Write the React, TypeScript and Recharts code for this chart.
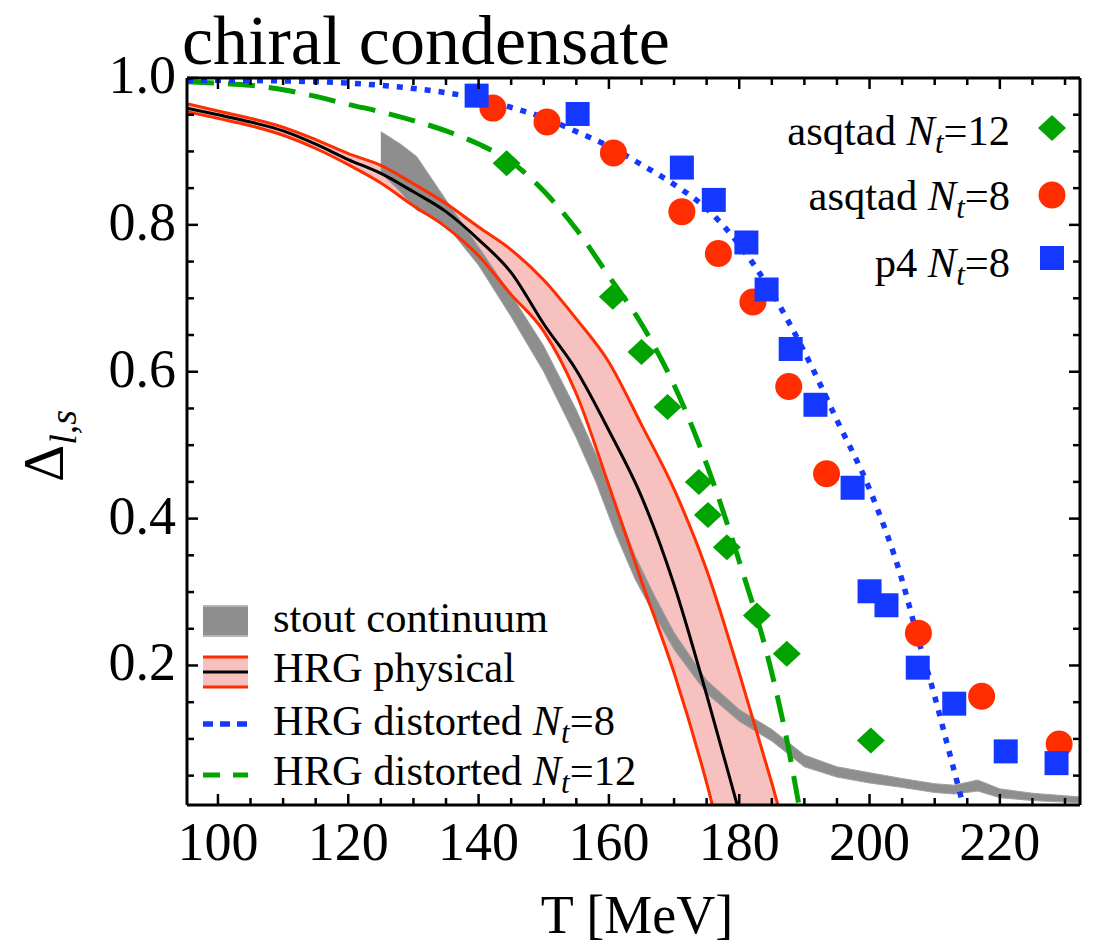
import React from "react";
import { ComposedChart, XAxis, YAxis, Line, Area, Scatter } from "recharts";

const FONT = '"Liberation Serif", "Times New Roman", serif';
const RED = "#ff2d00";
const PINK = "#f6c1be";
const GRAY = "#8e8e8e";
const BLUE = "#1438ff";
const GREEN = "#00a300";

// axis
const xTicks = [100, 105, 110, 115, 120, 125, 130, 135, 140, 145, 150, 155, 160, 165, 170, 175, 180, 185, 190, 195, 200, 205, 210, 215, 220, 225, 230];
const xLabels = [100, 120, 140, 160, 180, 200, 220];
const yTicks = [0.05, 0.1, 0.15, 0.2, 0.25, 0.3, 0.35, 0.4, 0.45, 0.5, 0.55, 0.6, 0.65, 0.7, 0.75, 0.8, 0.85, 0.9, 0.95, 1.0];
const yLabels = [0.2, 0.4, 0.6, 0.8, 1.0];

// lattice points
const p4T = [139.7, 155.2, 171.2, 176.1, 181.1, 184.2, 187.9, 191.7, 197.4, 200.0, 202.6, 207.4, 213.0, 220.9, 228.7];
const p4D = [0.976, 0.951, 0.878, 0.834, 0.776, 0.712, 0.631, 0.555, 0.442, 0.301, 0.282, 0.197, 0.148, 0.083, 0.067];
const asq8T = [142.2, 150.5, 160.7, 171.2, 176.8, 182.1, 187.6, 193.4, 207.5, 217.2, 229.1];
const asq8D = [0.959, 0.94, 0.898, 0.818, 0.761, 0.695, 0.58, 0.461, 0.244, 0.158, 0.093];
const asq12T = [144.3, 160.6, 165.0, 169.0, 173.8, 175.2, 178.1, 182.7, 187.3, 200.2];
const asq12D = [0.884, 0.702, 0.627, 0.552, 0.45, 0.405, 0.361, 0.268, 0.216, 0.098];

// HRG distorted curves
const nt8T = [95.25, 110, 125, 135, 140, 145, 150, 155, 160, 165, 170, 175, 180, 185, 190, 195, 200, 205, 207.5, 210, 212, 214, 216];
const nt8D = [0.997, 0.996, 0.99, 0.98, 0.972, 0.96, 0.946, 0.927, 0.907, 0.882, 0.855, 0.822, 0.773, 0.708, 0.627, 0.534, 0.44, 0.316, 0.235, 0.158, 0.09, 0.022, -0.05];
const nt12T = [95.25, 100, 105, 110, 115, 120, 125, 130, 135, 140, 145, 150, 155, 160, 165, 170, 175, 180, 185, 187.5, 189, 190];
const nt12D = [0.995, 0.993, 0.99, 0.984, 0.975, 0.964, 0.954, 0.942, 0.928, 0.91, 0.886, 0.846, 0.794, 0.73, 0.665, 0.582, 0.474, 0.342, 0.19, 0.09, 0.018, -0.03];

// HRG physical band
const hrgT = [95.25, 100, 105, 110, 115, 120, 125, 130, 135, 140, 145, 150, 155, 160, 165, 170, 175, 180, 185, 190];
const hrgLo = [0.954, 0.945, 0.935, 0.922, 0.904, 0.882, 0.857, 0.826, 0.797, 0.758, 0.705, 0.655, 0.57, 0.445, 0.315, 0.19, 0.04, -0.14, -0.3, -0.45];
const hrgMid = [0.959, 0.95, 0.94, 0.928, 0.91, 0.889, 0.87, 0.845, 0.818, 0.78, 0.735, 0.665, 0.602, 0.52, 0.43, 0.31, 0.16, 0.0, -0.16, -0.32];
const hrgHi = [0.965, 0.955, 0.945, 0.933, 0.916, 0.897, 0.881, 0.856, 0.829, 0.797, 0.766, 0.725, 0.672, 0.613, 0.528, 0.44, 0.33, 0.19, 0.04, -0.12];

// stout continuum band
const stoutT = [125, 128, 130.5, 135, 140, 145, 150, 155, 158, 161, 164, 167, 170, 175, 180, 185, 190, 195, 200, 205, 210, 213, 216.6, 220, 225, 232.3];
const stoutLo = [0.871, 0.845, 0.82, 0.8, 0.745, 0.675, 0.6, 0.51, 0.45, 0.38, 0.318, 0.268, 0.222, 0.162, 0.124, 0.097, 0.062, 0.048, 0.04, 0.034, 0.027, 0.025, 0.029, 0.02, 0.016, 0.013];
const stoutHi = [0.927, 0.91, 0.893, 0.834, 0.77, 0.705, 0.635, 0.548, 0.488, 0.42, 0.35, 0.295, 0.245, 0.18, 0.14, 0.113, 0.078, 0.062, 0.054, 0.046, 0.039, 0.037, 0.044, 0.032, 0.026, 0.021];

const pts = (xs: number[], ys: number[]) => xs.map((x, i) => ({ x, y: ys[i] }));
const p4Rows = pts(p4T, p4D);
const asq8Rows = pts(asq8T, asq8D);
const asq12Rows = pts(asq12T, asq12D);
const nt8Rows = pts(nt8T, nt8D);
const nt12Rows = pts(nt12T, nt12D);
const hrgRows = hrgT.map((x, i) => ({ x, lo: hrgLo[i], mid: hrgMid[i], hi: hrgHi[i], band: [hrgLo[i], hrgHi[i]] }));
const stoutRows = stoutT.map((x, i) => ({ x, band: [stoutLo[i], stoutHi[i]] }));

const isMajor = (list: number[], v: number) => list.some((m) => Math.abs(m - v) < 1e-6);

function BottomTick(props: any) {
  const { x, y, payload } = props;
  const major = isMajor(xLabels, payload.value);
  return (
    <g>
      <line x1={x} x2={x} y1={y} y2={y - (major ? 11 : 7)} stroke="#000" strokeWidth={2.5} />
      {major && (
        <text x={x} y={y + 55} textAnchor="middle" fontSize={54} fontFamily={FONT} fill="#000">
          {payload.value}
        </text>
      )}
    </g>
  );
}

function TopTick(props: any) {
  const { x, y, payload } = props;
  const major = isMajor(xLabels, payload.value);
  return <line x1={x} x2={x} y1={y} y2={y + (major ? 11 : 7)} stroke="#000" strokeWidth={2.5} />;
}

function LeftTick(props: any) {
  const { x, y, payload } = props;
  const major = isMajor(yLabels, payload.value);
  return (
    <g>
      <line x1={x} x2={x + (major ? 11 : 7)} y1={y} y2={y} stroke="#000" strokeWidth={2.5} />
      {major && (
        <text x={x - 11} y={y + 15} textAnchor="end" fontSize={54} fontFamily={FONT} fill="#000">
          {Number(payload.value).toFixed(1)}
        </text>
      )}
    </g>
  );
}

function RightTick(props: any) {
  const { x, y, payload } = props;
  const major = isMajor(yLabels, payload.value);
  return <line x1={x} x2={x - (major ? 11 : 7)} y1={y} y2={y} stroke="#000" strokeWidth={2.5} />;
}

const square = (p: any) => <rect x={p.cx - 12} y={p.cy - 12} width={24} height={24} fill={BLUE} />;
const circle = (p: any) => <circle cx={p.cx} cy={p.cy} r={13.5} fill={RED} />;
const diamond = (p: any) => (
  <polygon points={`${p.cx},${p.cy - 13} ${p.cx + 14},${p.cy} ${p.cx},${p.cy + 13} ${p.cx - 14},${p.cy}`} fill={GREEN} />
);

function Nt(props: { n: string }) {
  return (
    <>
      <tspan fontStyle="italic">N</tspan>
      <tspan fontStyle="italic" fontSize={31} dy={8}>t</tspan>
      <tspan dy={-8}>={props.n}</tspan>
    </>
  );
}

export default function App() {
  const axisLine = { stroke: "#000", strokeWidth: 3 };
  const xDomain: [number, number] = [95.25, 232.3];
  const yDomain: [number, number] = [0.01, 1.0];
  return (
    <div style={{ position: "absolute", left: 0, top: 0, width: 1098, height: 946, background: "#fff" }}>
      <ComposedChart width={1098} height={946} margin={{ top: 68, right: 8, bottom: 81, left: 127 }}>
        <XAxis
          xAxisId="b"
          dataKey="x"
          type="number"
          domain={xDomain}
          allowDataOverflow
          ticks={xTicks}
          interval={0}
          height={60}
          tickSize={0}
          tickMargin={0}
          axisLine={axisLine}
          tickLine={false}
          tick={<BottomTick />}
        />
        <XAxis
          xAxisId="t"
          orientation="top"
          dataKey="x"
          type="number"
          domain={xDomain}
          allowDataOverflow
          ticks={xTicks}
          interval={0}
          height={10}
          tickSize={0}
          tickMargin={0}
          axisLine={axisLine}
          tickLine={false}
          tick={<TopTick />}
        />
        <YAxis
          yAxisId="l"
          dataKey="y"
          type="number"
          domain={yDomain}
          allowDataOverflow
          ticks={yTicks}
          interval={0}
          width={60}
          tickSize={0}
          tickMargin={0}
          axisLine={axisLine}
          tickLine={false}
          tick={<LeftTick />}
        />
        <YAxis
          yAxisId="r"
          orientation="right"
          dataKey="y"
          type="number"
          domain={yDomain}
          allowDataOverflow
          ticks={yTicks}
          interval={0}
          width={10}
          tickSize={0}
          tickMargin={0}
          axisLine={axisLine}
          tickLine={false}
          tick={<RightTick />}
        />

        <Area xAxisId="b" yAxisId="l" data={hrgRows} dataKey="band" type="monotone" fill={PINK} fillOpacity={1} stroke="none" isAnimationActive={false} />
        <Line xAxisId="b" yAxisId="l" data={hrgRows} dataKey="lo" type="monotone" stroke={RED} strokeWidth={3} dot={false} activeDot={false} isAnimationActive={false} />
        <Line xAxisId="b" yAxisId="l" data={hrgRows} dataKey="hi" type="monotone" stroke={RED} strokeWidth={3} dot={false} activeDot={false} isAnimationActive={false} />
        <Line xAxisId="b" yAxisId="l" data={hrgRows} dataKey="mid" type="monotone" stroke="#000" strokeWidth={3} dot={false} activeDot={false} isAnimationActive={false} />
        <Area xAxisId="b" yAxisId="l" data={stoutRows} dataKey="band" type="linear" fill={GRAY} fillOpacity={1} stroke="#a0a0a0" strokeWidth={1} isAnimationActive={false} />

        <Scatter xAxisId="b" yAxisId="l" data={asq12Rows} dataKey="y" shape={diamond} isAnimationActive={false} />
        <Scatter xAxisId="b" yAxisId="l" data={asq8Rows} dataKey="y" shape={circle} isAnimationActive={false} />
        <Scatter xAxisId="b" yAxisId="l" data={p4Rows} dataKey="y" shape={square} isAnimationActive={false} />

        <Line xAxisId="b" yAxisId="l" data={nt12Rows} dataKey="y" type="monotone" stroke={GREEN} strokeWidth={5} strokeDasharray="27 14" dot={false} activeDot={false} isAnimationActive={false} />
        <Line xAxisId="b" yAxisId="l" data={nt8Rows} dataKey="y" type="monotone" stroke={BLUE} strokeWidth={5.5} strokeDasharray="6 8" dot={false} activeDot={false} isAnimationActive={false} />
      </ComposedChart>

      <svg width={1098} height={946} style={{ position: "absolute", left: 0, top: 0, pointerEvents: "none" }} fontFamily={FONT}>
        <text x={182} y={64} fontSize={70} fill="#000">chiral condensate</text>
        <text x={637} y={933} fontSize={54} textAnchor="middle" fill="#000">T [MeV]</text>
        <text transform="translate(63,482) rotate(-90)" fontSize={58} fill="#000">
          Δ<tspan fontStyle="italic" fontSize={38} dy={13}>l,s</tspan>
        </text>

        {/* upper right legend */}
        <g fontSize={42.5} fill="#000">
          <text x={1010} y={145} textAnchor="end"><tspan>asqtad </tspan><Nt n="12" /></text>
          <text x={1010} y={210} textAnchor="end"><tspan>asqtad </tspan><Nt n="8" /></text>
          <text x={1010} y={277} textAnchor="end"><tspan>p4 </tspan><Nt n="8" /></text>
        </g>
        <polygon points="1052,115 1066,128 1052,141 1038,128" fill={GREEN} />
        <circle cx={1052} cy={195} r={13.5} fill={RED} />
        <rect x={1040} y={246} width={24} height={24} fill={BLUE} />

        {/* lower left legend */}
        <rect x={203} y={605} width={45} height={32} fill={GRAY} />
        <line x1={203} x2={248} y1={606} y2={606} stroke="#b4b4b4" strokeWidth={2} />
        <line x1={203} x2={248} y1={636} y2={636} stroke="#b4b4b4" strokeWidth={2} />
        <rect x={203} y={657} width={45} height={30} fill={PINK} />
        <line x1={203} x2={248} y1={657} y2={657} stroke={RED} strokeWidth={3} />
        <line x1={203} x2={248} y1={687} y2={687} stroke={RED} strokeWidth={3} />
        <line x1={203} x2={248} y1={672} y2={672} stroke="#000" strokeWidth={3} />
        <line x1={203} x2={248} y1={724} y2={724} stroke={BLUE} strokeWidth={5.5} strokeDasharray="10 7" />
        <line x1={203} x2={248} y1={775} y2={775} stroke={GREEN} strokeWidth={5} strokeDasharray="17 13" />
        <g fontSize={42.5} fill="#000">
          <text x={273} y={632}>stout continuum</text>
          <text x={273} y={682}>HRG physical</text>
          <text x={273} y={735}><tspan>HRG distorted </tspan><Nt n="8" /></text>
          <text x={273} y={785}><tspan>HRG distorted </tspan><Nt n="12" /></text>
        </g>
      </svg>
    </div>
  );
}
